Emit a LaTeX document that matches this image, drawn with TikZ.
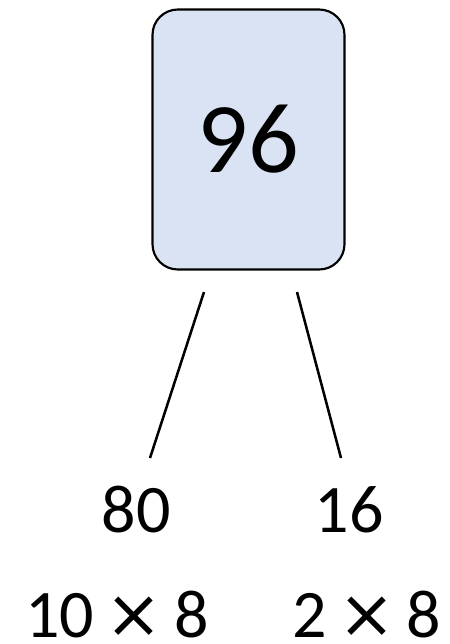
\documentclass[tikz,border=0pt]{standalone}
\usepackage{fontspec}
\setmainfont{Carlito}
\newfontfamily\symfont{DejaVu Sans}
\usepackage{tikz}
\usetikzlibrary{positioning, calc}

\definecolor{boxblue}{HTML}{DAE3F3}
\newcommand{\bigtimes}{{\symfont ×}}

\begin{document}
\begin{tikzpicture}[x=0.75pt, y=-0.75pt, thick]
        \tikzset{
            topbox/.style={draw, line width=1.6pt, fill=boxblue, rounded corners=19pt, minimum width=144pt, minimum height=195pt, font=\fontsize{75}{80}\selectfont},
            partnode/.style={font=\fontsize{51}{56}\selectfont, inner sep=0pt, anchor=base},
            splitline/.style={line width=1.9pt}
        }
        \useasboundingbox (0,0) rectangle (450,644);

        % --- whole number ---
        \node[topbox] (whole) at (248.5,139.5) {96};

        % --- parts ---
        \node[partnode] (left) at (136,532) {80};
        \node[partnode] (right) at (349,532) {16};

        % --- facts ---
        \node[partnode] (leftfact) at (117,637) {10\,\bigtimes\,8};
        \node[partnode] (rightfact) at (367,637) {2\,\bigtimes\,8};

        % ends of the split lines
        \coordinate (ltop) at (204,292);
        \coordinate (lbot) at (150,458);
        \coordinate (rtop) at (297,292);
        \coordinate (rbot) at (341,458);

        \draw[splitline] (ltop) -- (lbot);
        \draw[splitline] (rtop) -- (rbot);

    \end{tikzpicture}
\end{document}
